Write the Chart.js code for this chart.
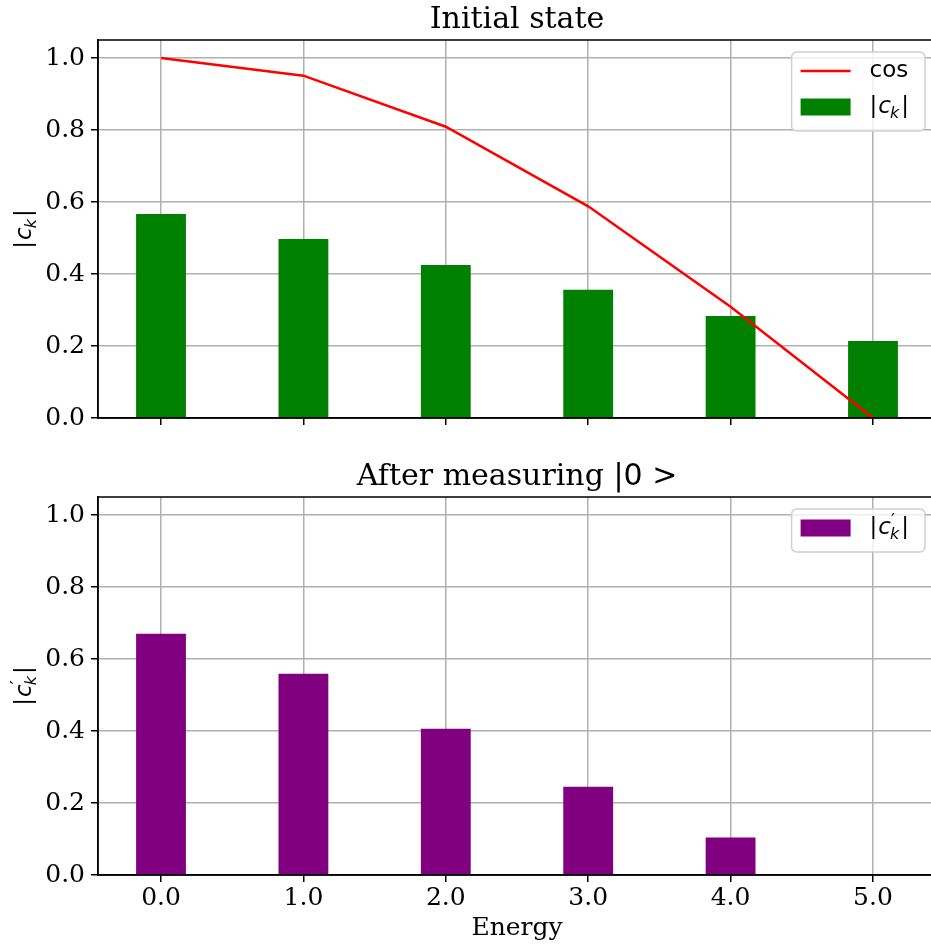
<!DOCTYPE html>
<html>
<head>
<meta charset="utf-8">
<script src="https://cdn.jsdelivr.net/npm/chart.js@4.4.1/dist/chart.umd.min.js"></script>
<style>
  html, body { margin: 0; padding: 0; background: #fff; overflow: hidden; width: 931px; height: 947px; }
  canvas { display: block; }
</style>
</head>
<body>
<canvas id="initial" width="936" height="458"></canvas>
<canvas id="after" width="936" height="489"></canvas>
<script>
// values
var energies = [0, 1, 2, 3, 4, 5];
var ckInitial = [0.567, 0.497, 0.425, 0.356, 0.283, 0.214];
var cosCurve = [1.0, 0.951, 0.809, 0.588, 0.309, 0.0];
var ckAfter = [0.670, 0.559, 0.406, 0.245, 0.104, 0.0];
var xTicks = [0, 1, 2, 3, 4, 5];
var yTicks = [0, 0.2, 0.4, 0.6, 0.8, 1.0];

var SERIF = '"DejaVu Serif", serif';
var SANS = '"DejaVu Sans", sans-serif';
var FS = 25;      // tick / axis label size
var LFS = 23;     // legend and math label size
var TFS = 30;     // title size

function pts(xs, ys) {
  return xs.map(function (x, i) { return { x: x, y: ys[i] }; });
}

// tiny mathtext-like renderer for labels such as |c_k| and |c'_k|
function drawMath(ctx, s, x, y, fs, measureOnly) {
  var up = fs + "px " + SANS,
    it = "italic " + fs + "px " + SANS,
    sub = "italic " + Math.round(fs * 0.7) + "px " + SANS,
    pr = Math.round(fs * 0.8) + "px " + SANS;
  ctx.textBaseline = "middle";
  ctx.textAlign = "left";
  var m = s.match(/^\|(\w)('?)_(\w)\|$/);
  if (!m) {
    ctx.font = up;
    if (!measureOnly) ctx.fillText(s, x, y);
    return ctx.measureText(s).width;
  }
  var x0 = x;
  ctx.font = up;
  if (!measureOnly) ctx.fillText("|", x, y);
  x += ctx.measureText("|").width + 1;
  ctx.font = it;
  if (!measureOnly) ctx.fillText(m[1], x, y);
  x += ctx.measureText(m[1]).width;
  ctx.font = sub;
  var w = ctx.measureText(m[3]).width;
  if (m[2]) {
    ctx.font = pr;
    if (!measureOnly) ctx.fillText("\u2032", x, y - fs * 0.3);
    ctx.font = sub;
  }
  if (!measureOnly) ctx.fillText(m[3], x - 1, y + fs * 0.28);
  x += w + 1;
  ctx.font = up;
  if (!measureOnly) ctx.fillText("|", x, y);
  x += ctx.measureText("|").width;
  return x - x0;
}

var frame = {
  id: "frame",
  afterDraw: function (c) {
    var a = c.chartArea, ctx = c.ctx;
    ctx.save();
    ctx.strokeStyle = "#000";
    ctx.lineWidth = 1.5;
    ctx.strokeRect(a.left, a.top, a.right - a.left, a.bottom - a.top);
    ctx.restore();
  }
};

// title centred over the plot area; text between $ $ is set in the sans face
var plotTitle = {
  id: "plotTitle",
  afterDraw: function (c, args, opts) {
    var a = c.chartArea, ctx = c.ctx;
    var parts = opts.text.split("$");
    ctx.save();
    ctx.fillStyle = "#000";
    ctx.textBaseline = "alphabetic";
    ctx.textAlign = "left";
    var fonts = parts.map(function (p, i) { return TFS + "px " + (i % 2 ? SANS : SERIF); });
    var total = 0;
    parts.forEach(function (p, i) { ctx.font = fonts[i]; total += ctx.measureText(p).width; });
    var x = (a.left + a.right) / 2 - total / 2, y = a.top - 12;
    parts.forEach(function (p, i) {
      ctx.font = fonts[i];
      ctx.fillText(p, x, y);
      x += ctx.measureText(p).width;
    });
    ctx.restore();
  }
};

var yLabel = {
  id: "yLabel",
  afterDraw: function (c, args, opts) {
    var a = c.chartArea, ctx = c.ctx;
    ctx.save();
    ctx.fillStyle = "#000";
    ctx.translate(25, (a.top + a.bottom) / 2);
    ctx.rotate(-Math.PI / 2);
    var w = drawMath(ctx, opts.text, 0, 0, LFS, true);
    drawMath(ctx, opts.text, -w / 2, 0, LFS, false);
    ctx.restore();
  }
};

var boxLegend = {
  id: "boxLegend",
  afterDraw: function (c) {
    var a = c.chartArea, ctx = c.ctx, ds = c.data.datasets;
    ctx.save();
    var tw = 0;
    ds.forEach(function (d) { tw = Math.max(tw, drawMath(ctx, d.label, 0, 0, LFS, true)); });
    var w = 9 + 50 + 19 + tw + 16,
      h = 19 + (ds.length - 1) * 36 + 24,
      right = a.right - 11, top = a.top + 12, left = right - w;
    ctx.beginPath();
    ctx.roundRect(left, top, w, h, 5);
    ctx.fillStyle = "rgba(255,255,255,0.8)";
    ctx.fill();
    ctx.strokeStyle = "#d0d0d0";
    ctx.lineWidth = 1.5;
    ctx.stroke();
    ds.forEach(function (d, i) {
      var cy = top + 19 + i * 36;
      if (d.type === "line") {
        ctx.strokeStyle = d.borderColor;
        ctx.lineWidth = d.borderWidth;
        ctx.beginPath();
        ctx.moveTo(left + 9, cy);
        ctx.lineTo(left + 59, cy);
        ctx.stroke();
      } else {
        ctx.fillStyle = d.backgroundColor;
        ctx.fillRect(left + 9, cy - 8.5, 50, 17);
      }
      ctx.fillStyle = "#000";
      drawMath(ctx, d.label, left + 78, cy, LFS, false);
    });
    ctx.restore();
  }
};

function buildScales(showX) {
  return {
    x: {
      type: "linear",
      min: -0.4425,
      max: 5.4425,
      offset: false,
      z: 1,
      afterBuildTicks: function (s) { s.ticks = xTicks.map(function (v) { return { value: v }; }); },
      afterFit: function (s) { s.height = showX ? 72 : 40; },
      grid: { color: "#b0b0b0", lineWidth: 1.5, offset: false, drawTicks: true, tickLength: 7, tickColor: "#000", tickWidth: 1.5 },
      border: { color: "#000", width: 1.5 },
      ticks: {
        display: showX,
        autoSkip: false,
        maxRotation: 0,
        padding: 1,
        color: "#000",
        font: { family: SERIF, size: FS },
        callback: function (v) { return Number(v).toFixed(1); }
      },
      title: { display: showX, text: "Energy", color: "#000", font: { family: SERIF, size: FS }, padding: { top: 0, bottom: 4 } }
    },
    y: {
      min: 0,
      max: 1.05,
      z: 1,
      afterBuildTicks: function (s) { s.ticks = yTicks.map(function (v) { return { value: v }; }); },
      afterFit: function (s) { s.width = 98; },
      grid: { color: "#b0b0b0", lineWidth: 1.5, drawTicks: true, tickLength: 7, tickColor: "#000", tickWidth: 1.5 },
      border: { color: "#000", width: 1.5 },
      ticks: {
        padding: 6,
        color: "#000",
        font: { family: SERIF, size: FS },
        callback: function (v) { return Number(v).toFixed(1); }
      }
    }
  };
}

function buildOptions(title, ylabel, showX, topPad) {
  return {
    responsive: false,
    animation: false,
    layout: { padding: { top: topPad, left: 0, right: 0, bottom: 0 }, autoPadding: false },
    scales: buildScales(showX),
    plugins: {
      legend: { display: false },
      tooltip: { enabled: false },
      title: { display: false },
      plotTitle: { text: title },
      yLabel: { text: ylabel }
    }
  };
}

new Chart(document.getElementById("initial"), {
  type: "bar",
  data: {
    datasets: [
      {
        type: "line",
        label: "cos",
        data: pts(energies, cosCurve),
        borderColor: "#ff0000",
        borderWidth: 2.5,
        pointRadius: 0,
        tension: 0,
        fill: false,
        order: 0
      },
      {
        type: "bar",
        label: "|c_k|",
        data: pts(energies, ckInitial),
        backgroundColor: "#008000",
        barPercentage: 0.35,
        categoryPercentage: 1,
        order: 1
      }
    ]
  },
  options: buildOptions("Initial state", "|c_k|", false, 40),
  plugins: [frame, plotTitle, yLabel, boxLegend]
});

new Chart(document.getElementById("after"), {
  type: "bar",
  data: {
    datasets: [
      {
        type: "bar",
        label: "|c'_k|",
        data: pts(energies, ckAfter),
        backgroundColor: "#800080",
        barPercentage: 0.35,
        categoryPercentage: 1
      }
    ]
  },
  options: buildOptions("After measuring $|0 >$", "|c'_k|", true, 39),
  plugins: [frame, plotTitle, yLabel, boxLegend]
});
</script>
</body>
</html>
